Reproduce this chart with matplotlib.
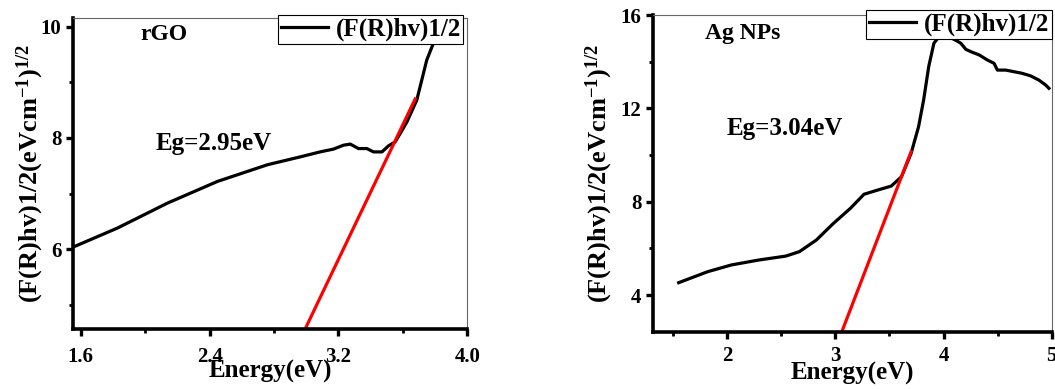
import matplotlib
matplotlib.use('Agg')
import matplotlib.pyplot as plt
from matplotlib.ticker import MultipleLocator

plt.rcParams.update({
    'font.family': 'Liberation Serif',
    'font.weight': 'bold',
    'mathtext.fontset': 'custom',
    'mathtext.rm': 'Liberation Serif:bold',
    'mathtext.it': 'Liberation Serif:bold',
    'mathtext.bf': 'Liberation Serif:bold',
})

# rGO Tauc curve
rgo_energy = [1.554, 1.56, 1.826, 2.138, 2.449, 2.76, 2.962, 3.086, 3.169, 3.231,
              3.273, 3.324, 3.376, 3.417, 3.47, 3.511, 3.552, 3.583, 3.625, 3.686,
              3.717, 3.748, 3.789, 3.81]
rgo_signal = [6.04, 6.05, 6.38, 6.83, 7.22, 7.52, 7.66, 7.75, 7.80, 7.87,
              7.89, 7.81, 7.81, 7.75, 7.75, 7.86, 7.93, 8.08, 8.29, 8.68,
              9.04, 9.40, 9.70, 10.16]
rgo_fit_x = [2.993, 3.676]
rgo_fit_y = [4.57, 8.70]

# Ag NPs Tauc curve
ag_energy = [1.552, 1.819, 2.039, 2.29, 2.542, 2.668, 2.825, 2.982, 3.14, 3.265,
             3.392, 3.517, 3.611, 3.70, 3.769, 3.816, 3.863, 3.911, 3.958, 4.03,
             4.10, 4.16, 4.206, 4.252, 4.329, 4.406, 4.467, 4.498, 4.575, 4.652,
             4.728, 4.806, 4.882, 4.944, 4.974]
ag_signal = [4.53, 5.00, 5.29, 5.50, 5.67, 5.86, 6.36, 7.07, 7.72, 8.32,
             8.50, 8.67, 9.07, 10.07, 11.21, 12.36, 13.79, 14.79, 15.07, 15.1,
             14.95, 14.79, 14.53, 14.43, 14.29, 14.07, 13.93, 13.64, 13.64, 13.57,
             13.50, 13.39, 13.21, 13.0, 12.86]
ag_fit_x = [3.06, 3.70]
ag_fit_y = [2.43, 10.14]

ylabel = r'(F(R)hv)1/2(eVcm$^{-1}$)$^{1/2}$'

fig = plt.figure(figsize=(10.55, 3.89), dpi=100)
ax1 = fig.add_axes([0.0695, 0.1542, 0.3735, 0.799])
ax2 = fig.add_axes([0.6193, 0.1473, 0.3776, 0.8141])


def style(ax, pad):
    for s in ('top', 'right'):
        ax.spines[s].set_linewidth(0.8)
        ax.spines[s].set_color('#666666')
    for s in ('left', 'bottom'):
        ax.spines[s].set_linewidth(2.6)
    ax.tick_params(which='major', direction='out', length=5, width=2.4, labelsize=15)
    ax.tick_params(axis='x', which='major', pad=pad)
    ax.tick_params(which='minor', direction='out', length=3, width=2.0)
    ax.tick_params(which='both', right=False, top=False)
    for lab in ax.get_xticklabels() + ax.get_yticklabels():
        lab.set_fontweight('bold')


def add_legend(ax, anchor):
    leg = ax.legend(loc='upper right', bbox_to_anchor=anchor, fancybox=False,
                    edgecolor='black', framealpha=1, fontsize=18, handlelength=1.9,
                    borderpad=0.1, handletextpad=0.3, borderaxespad=0.0)
    leg.get_frame().set_linewidth(0.8)
    return leg


# ---- rGO ----
ax1.plot(rgo_energy, rgo_signal, color='black', lw=2.3, label='(F(R)hv)1/2')
ax1.plot(rgo_fit_x, rgo_fit_y, color='#ff0000', lw=2.3)
ax1.set_xlim(1.554, 4.0)
ax1.set_ylim(4.57, 10.15)
ax1.set_xticks([1.6, 2.4, 3.2, 4.0])
ax1.set_xticklabels(['1.6', '2.4', '3.2', '4.0'])
ax1.xaxis.set_minor_locator(MultipleLocator(0.4))
ax1.yaxis.set_major_locator(MultipleLocator(2))
ax1.yaxis.set_minor_locator(MultipleLocator(1))
style(ax1, 8)
ax1.set_xlabel('Energy(eV)', fontsize=18, fontweight='bold', labelpad=-5)
ax1.set_ylabel(ylabel, fontsize=19, fontweight='bold', labelpad=-4)
ax1.text(0.17, 0.93, 'rGO', transform=ax1.transAxes, fontsize=17, fontweight='bold')
ax1.text(0.21, 0.575, 'Eg=2.95eV', transform=ax1.transAxes, fontsize=18, fontweight='bold')
add_legend(ax1, (0.99, 1.01))

# ---- Ag NPs ----
ax2.plot(ag_energy, ag_signal, color='black', lw=2.3, label='(F(R)hv)1/2')
ax2.plot(ag_fit_x, ag_fit_y, color='#ff0000', lw=2.3)
ax2.set_xlim(1.318, 5.0)
ax2.set_ylim(2.43, 16.0)
ax2.xaxis.set_major_locator(MultipleLocator(1))
ax2.xaxis.set_minor_locator(MultipleLocator(0.5))
ax2.yaxis.set_major_locator(MultipleLocator(4))
ax2.yaxis.set_minor_locator(MultipleLocator(2))
style(ax2, 5)
ax2.set_xlabel('Energy(eV)', fontsize=18, fontweight='bold', labelpad=-3)
ax2.set_ylabel(ylabel, fontsize=19, fontweight='bold', labelpad=4)
ax2.text(0.13, 0.925, 'Ag NPs', transform=ax2.transAxes, fontsize=17, fontweight='bold')
ax2.text(0.185, 0.62, 'Eg=3.04eV', transform=ax2.transAxes, fontsize=18, fontweight='bold')
add_legend(ax2, (1.0, 1.015))

fig.savefig('out.png', dpi=100)
